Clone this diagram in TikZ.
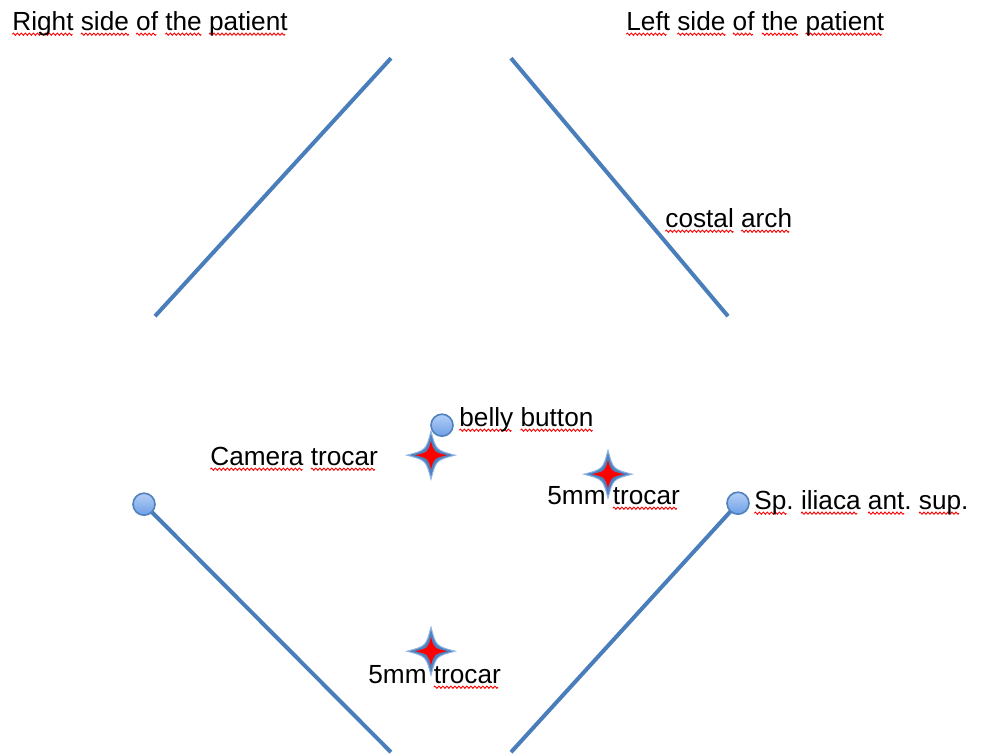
\documentclass[tikz,border=0pt]{standalone}
\usepackage{fontspec}
\setmainfont{Liberation Sans}
\frenchspacing
\newbox\wavebox
\newcommand\makewave{\global\setbox\wavebox=\hbox{\tikz[x=1pt,y=1pt]{\useasboundingbox (0,-0.6) rectangle (2,0.6);
  \draw[red, line width=0.45pt] (0,0) sin (0.5,0.55) cos (1,0) sin (1.5,-0.55) cos (2,0);}}}
\newcommand\spl[1]{\setbox0\hbox{#1}\rlap{\lower2.6pt\hbox to\wd0{\leaders\copy\wavebox\hfill}}\box0\relax}
\definecolor{lineblue}{HTML}{4A7EBB}
\definecolor{dottop}{HTML}{B3CFF7}
\definecolor{dotbottom}{HTML}{6F9FE6}
\definecolor{dotedge}{HTML}{4F81BD}
\definecolor{starblue}{HTML}{4F81BD}
\definecolor{staredge}{HTML}{8FB4E6}
\tikzset{
  label text/.style={inner sep=0pt, anchor=base west, font=\fontsize{13.1}{15}\selectfont},
  bone/.style={draw=lineblue, line width=2pt},
  landmark/.style={circle, minimum size=11pt, inner sep=0pt, draw=dotedge, line width=0.8pt, top color=dottop, bottom color=dotbottom},
  trocar/.pic={
    \fill[starblue, draw=staredge, line width=0.5pt]
      (0,-24) .. controls (5,-5) .. (24,0) .. controls (5,5) .. (0,24)
      .. controls (-5,5) .. (-24,0) .. controls (-5,-5) .. cycle;
    \fill[red]
      (0,-14) .. controls (3,-3) .. (16,0) .. controls (3,3) .. (0,14)
      .. controls (-3,3) .. (-16,0) .. controls (-3,-3) .. cycle;
  }
}
\begin{document}
\begin{tikzpicture}[x=0.5pt,y=-0.5pt]
\makewave
\useasboundingbox (0,0) rectangle (982,753);
% costal arches
\coordinate (ula) at (155,315);
\coordinate (ulb) at (391,57);
\coordinate (ura) at (511,57);
\coordinate (urb) at (728,315);
\draw[bone] (ula) -- (ulb);
\draw[bone] (ura) -- (urb);
% iliac lines and landmarks
\coordinate (lla) at (391,751);
\coordinate (lra) at (511,751);
\coordinate (sisRc) at (144,503);
\coordinate (sisLc) at (738,502);
\draw[bone] (sisRc) -- (lla);
\draw[bone] (sisLc) -- (lra);
\node[landmark] (sisR) at (sisRc) {};
\node[landmark] (sisL) at (sisLc) {};
\node[landmark] (belly) at (442,424) {};
% trocars
\pic (cam) at (431,454) {trocar};
\pic (tr1) at (608,473) {trocar};
\pic (tr2) at (431,650) {trocar};
% texts
\node[label text] (tR) at (12,29) {\spl{Right} \spl{side} \spl{of} \spl{the} \spl{patient}};
\node[label text] (tL) at (626,29) {\spl{Left} \spl{side} \spl{of} \spl{the} \spl{patient}};
\node[label text] (tC) at (665,226) {\spl{costal} \spl{arch}};
\node[label text] (tB) at (459,425) {\spl{belly} \spl{button}};
\node[label text] (tCam) at (210,464) {\spl{Camera} \spl{trocar}};
\node[label text] (t5a) at (547,503) {5mm \spl{trocar}};
\node[label text] (tSp) at (754,508) {\spl{Sp}. \spl{iliaca} \spl{ant}. \spl{sup}.};
\node[label text] (t5b) at (368,682) {5mm \spl{trocar}};
\end{tikzpicture}
\end{document}
